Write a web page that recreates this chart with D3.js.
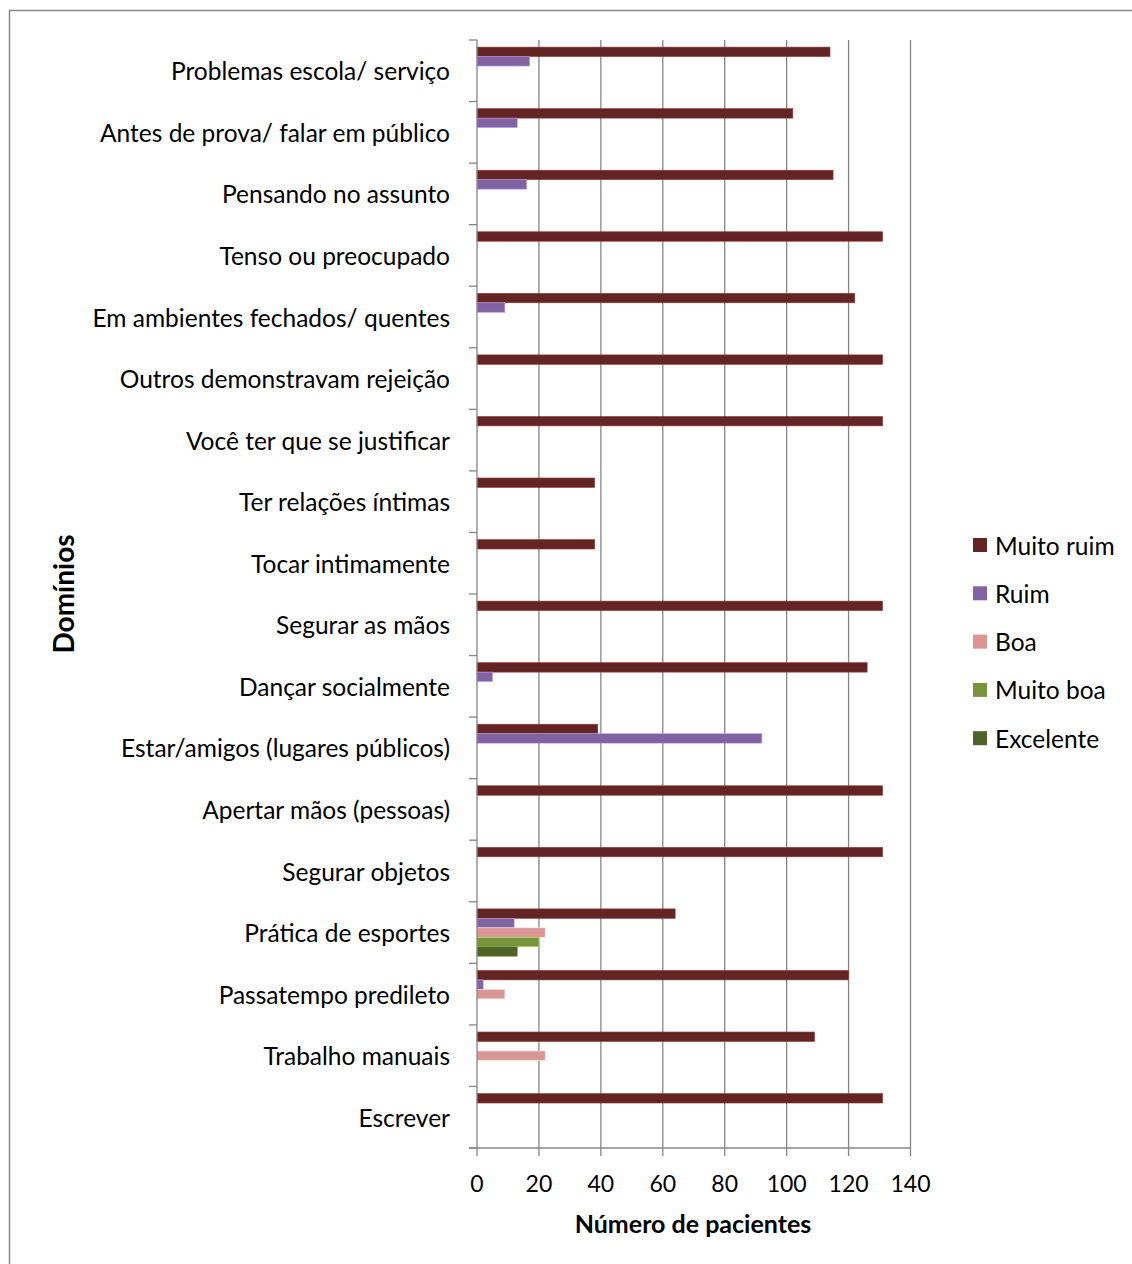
<!DOCTYPE html>
<html>
<head>
<meta charset="utf-8">
<script src="https://cdn.jsdelivr.net/npm/d3@7"></script>
<style>
  body { margin: 0; background: #fff; }
  svg text { font-family: Lato, "Open Sans", sans-serif; fill: #000; }
</style>
</head>
<body>
<div id="chart"></div>
<script>
// categories top to bottom
const categories = [
  "Problemas escola/ serviço",
  "Antes de prova/ falar em público",
  "Pensando no assunto",
  "Tenso ou preocupado",
  "Em ambientes fechados/ quentes",
  "Outros demonstravam rejeição",
  "Você ter que se justificar",
  "Ter relações íntimas",
  "Tocar intimamente",
  "Segurar as mãos",
  "Dançar socialmente",
  "Estar/amigos (lugares públicos)",
  "Apertar mãos (pessoas)",
  "Segurar objetos",
  "Prática de esportes",
  "Passatempo predileto",
  "Trabalho manuais",
  "Escrever"
];
const seriesNames = ["Muito ruim", "Ruim", "Boa", "Muito boa", "Excelente"];
const seriesColors = ["#632523", "#8064a2", "#d99694", "#77933c", "#4f6228"];
const muitoRuim = [114, 102, 115, 131, 122, 131, 131, 38, 38, 131, 126, 39, 131, 131, 64, 120, 109, 131];
const ruim      = [17, 13, 16, 0, 9, 0, 0, 0, 0, 0, 5, 92, 0, 0, 12, 2, 0, 0];
const boa       = [0, 0, 0, 0, 0, 0, 0, 0, 0, 0, 0, 0, 0, 0, 22, 9, 22, 0];
const muitoBoa  = [0, 0, 0, 0, 0, 0, 0, 0, 0, 0, 0, 0, 0, 0, 20, 0, 0, 0];
const excelente = [0, 0, 0, 0, 0, 0, 0, 0, 0, 0, 0, 0, 0, 0, 13, 0, 0, 0];
const xTicks = [0, 20, 40, 60, 80, 100, 120, 140];

const allSeries = [muitoRuim, ruim, boa, muitoBoa, excelente];

const W = 1132, H = 1264;
const svg = d3.select("#chart").append("svg").attr("width", W).attr("height", H);

// outer frame
svg.append("rect").attr("x", 9.5).attr("y", 10.5).attr("width", 1140).attr("height", 1270)
  .attr("fill", "none").attr("stroke", "#868686").attr("stroke-width", 1.5);

const pLeft = 477, pRight = 910.5, pTop = 40, pBottom = 1148;

const x = d3.scaleLinear().domain([0, 140]).range([pLeft, pRight]);
const y = d3.scaleBand().domain(categories).range([pTop, pBottom]).paddingInner(0).paddingOuter(0);
const inner = d3.scaleBand().domain(seriesNames).range([0, y.bandwidth()])
  .paddingInner(0).paddingOuter(0.75);

// gridlines
svg.append("g").selectAll("line").data(xTicks.slice(1)).join("line")
  .attr("x1", d => x(d)).attr("x2", d => x(d))
  .attr("y1", pTop).attr("y2", pBottom)
  .attr("stroke", "#868686").attr("stroke-width", 1.3);

// bars
const barG = svg.append("g");
allSeries.forEach((vals, si) => {
  barG.append("g").selectAll("rect").data(vals.map((v, i) => ({ v, c: categories[i] })).filter(d => d.v > 0))
    .join("rect")
    .attr("x", x(0))
    .attr("y", d => y(d.c) + inner(seriesNames[si]))
    .attr("width", d => x(d.v) - x(0))
    .attr("height", inner.bandwidth())
    .attr("fill", seriesColors[si])
    .attr("stroke", d3.color(seriesColors[si]).brighter(1.2))
    .attr("stroke-width", 0.6);
});

// y axis (category ticks at band boundaries)
const yBounds = categories.map(c => y(c)).concat([pBottom]);
const yAxisG = svg.append("g");
yAxisG.append("line").attr("x1", pLeft).attr("x2", pLeft).attr("y1", pTop).attr("y2", pBottom)
  .attr("stroke", "#868686").attr("stroke-width", 1.3);
yAxisG.selectAll("line.t").data(yBounds).join("line").attr("class", "t")
  .attr("x1", pLeft - 8).attr("x2", pLeft).attr("y1", d => d).attr("y2", d => d)
  .attr("stroke", "#868686").attr("stroke-width", 1.3);
yAxisG.selectAll("text").data(categories).join("text")
  .attr("x", 450).attr("y", d => y(d) + y.bandwidth() / 2)
  .attr("text-anchor", "end").attr("dominant-baseline", "central")
  .style("font-size", "24.5px").text(d => d);

// x axis
const xAxisG = svg.append("g");
xAxisG.append("line").attr("x1", pLeft - 8).attr("x2", pRight).attr("y1", pBottom).attr("y2", pBottom)
  .attr("stroke", "#868686").attr("stroke-width", 1.3);
xAxisG.selectAll("line.t").data(xTicks).join("line").attr("class", "t")
  .attr("x1", d => x(d)).attr("x2", d => x(d)).attr("y1", pBottom).attr("y2", pBottom + 8)
  .attr("stroke", "#868686").attr("stroke-width", 1.3);
xAxisG.selectAll("text").data(xTicks).join("text")
  .attr("x", d => x(d)).attr("y", 1183)
  .attr("text-anchor", "middle").attr("dominant-baseline", "central")
  .style("font-size", "23px").text(d => d);

// axis titles
svg.append("text").attr("x", 693).attr("y", 1223)
  .attr("text-anchor", "middle").attr("dominant-baseline", "central")
  .style("font-size", "25px").style("font-weight", "bold").text("Número de pacientes");
svg.append("text").attr("transform", "translate(63,594) rotate(-90)")
  .attr("text-anchor", "middle").attr("dominant-baseline", "central")
  .style("font-size", "28px").style("font-weight", "bold").text("Domínios");

// legend
const legend = svg.append("g");
seriesNames.forEach((name, i) => {
  const ly = 545 + i * 48.3;
  legend.append("rect").attr("x", 973).attr("y", ly - 7).attr("width", 14).attr("height", 14)
    .attr("fill", seriesColors[i]);
  legend.append("text").attr("x", 995).attr("y", ly)
    .attr("dominant-baseline", "central").style("font-size", "24.5px").text(name);
});
</script>
</body>
</html>
